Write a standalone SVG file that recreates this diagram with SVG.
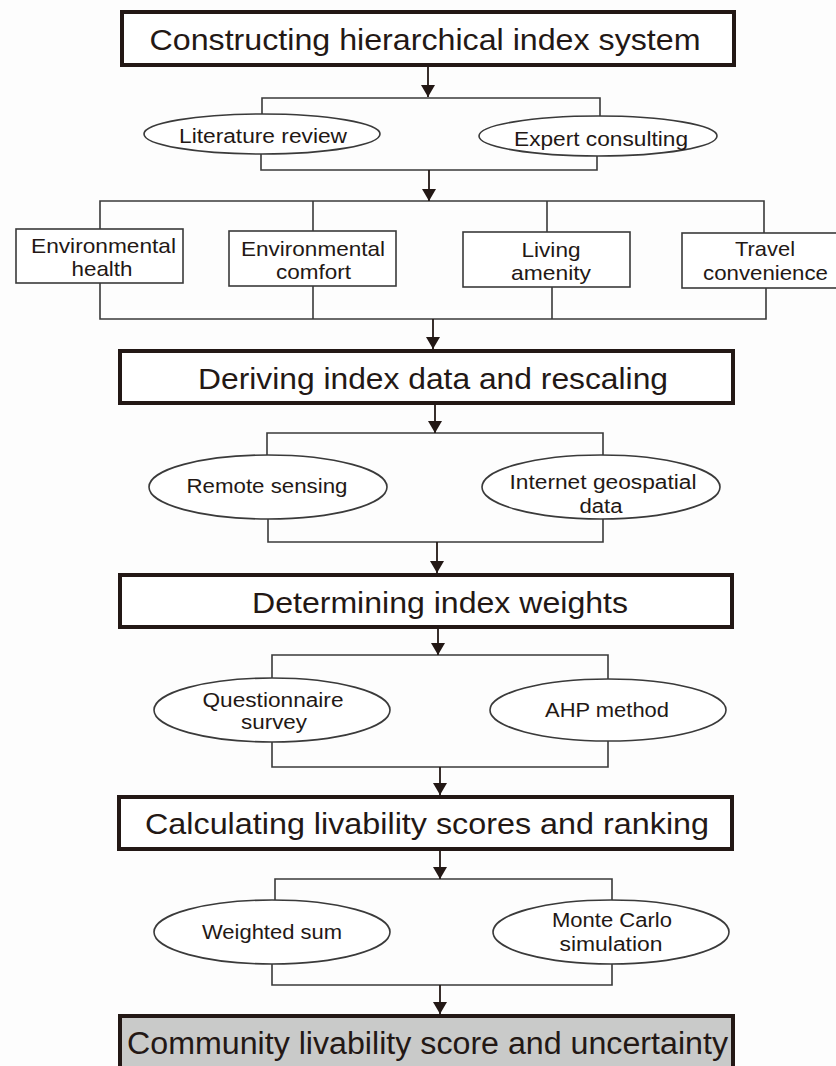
<svg xmlns="http://www.w3.org/2000/svg" width="836" height="1066" viewBox="0 0 836 1066">
<defs>
<style>
.bg{fill:#fdfdfd}
.main{fill:#ffffff;stroke:#231815;stroke-width:4}
.final{fill:#c9cac9;stroke:#231815;stroke-width:4}
.sub{fill:#ffffff;stroke:#3a3a3a;stroke-width:1.6}
.ell{fill:#ffffff;stroke:#3a3a3a;stroke-width:1.6}
.ln{fill:none;stroke:#3a3a3a;stroke-width:1.6}
.arr{fill:none;stroke:#231815;stroke-width:1.8}
.t{font-family:"Liberation Sans Narrow","Liberation Sans",Arial,sans-serif;fill:#231815;text-anchor:middle}
.tt{font-size:29px}
.te{font-size:20px}
.tb{font-family:"Liberation Sans",Arial,sans-serif;font-size:21px;fill:#231815;text-anchor:middle}
</style>
<marker id="ah" viewBox="0 0 12 14" refX="12" refY="7" markerWidth="12" markerHeight="14" markerUnits="userSpaceOnUse" orient="auto">
<path d="M0,0 L12,7 L0,14 z" fill="#231815"/>
</marker>
</defs>
<rect class="bg" x="0" y="0" width="836" height="1066"/>

<g id="connectors">
<path class="ln" d="M262,114 V98 H600 V116"/>
<path class="ln" d="M261,154 V170 H597 V156"/>
<path class="ln" d="M100,229 V201 H764 V233 M313,201 V231 M547,201 V232"/>
<path class="ln" d="M100,283 V319 H766 V288 M313,286 V319 M552,287 V319"/>
<path class="ln" d="M267,455 V433 H603 V455"/>
<path class="ln" d="M268,519 V542 H603 V519"/>
<path class="ln" d="M272,678 V655 H608 V679"/>
<path class="ln" d="M272,742 V767 H608 V741"/>
<path class="ln" d="M275,900 V879 H612 V900"/>
<path class="ln" d="M272,964 V985 H612 V964"/>
<line class="arr" x1="428" y1="66" x2="428" y2="97" marker-end="url(#ah)"/>
<line class="arr" x1="429" y1="170" x2="429" y2="201" marker-end="url(#ah)"/>
<line class="arr" x1="433" y1="319" x2="433" y2="349" marker-end="url(#ah)"/>
<line class="arr" x1="435" y1="405" x2="435" y2="433" marker-end="url(#ah)"/>
<line class="arr" x1="437" y1="542" x2="437" y2="573" marker-end="url(#ah)"/>
<line class="arr" x1="438" y1="629" x2="438" y2="655" marker-end="url(#ah)"/>
<line class="arr" x1="440" y1="767" x2="440" y2="795" marker-end="url(#ah)"/>
<line class="arr" x1="440" y1="851" x2="440" y2="879" marker-end="url(#ah)"/>
<line class="arr" x1="440" y1="985" x2="440" y2="1014" marker-end="url(#ah)"/>
</g>

<g id="box-constructing">
<rect class="main" x="122" y="12" width="612" height="53"/>
<text class="t tt" x="425" y="50" textLength="551" lengthAdjust="spacingAndGlyphs">Constructing hierarchical index system</text>
</g>
<g id="ell-literature">
<ellipse class="ell" cx="262" cy="134" rx="118" ry="20"/>
<text class="t te" x="263" y="143" textLength="168" lengthAdjust="spacingAndGlyphs">Literature review</text>
</g>
<g id="ell-expert">
<ellipse class="ell" cx="598" cy="136" rx="119" ry="20"/>
<text class="t te" x="601" y="146" textLength="174" lengthAdjust="spacingAndGlyphs">Expert consulting</text>
</g>
<g id="box-env-health">
<rect class="sub" x="16" y="229" width="167" height="54"/>
<text class="tb" x="103.5" y="253" textLength="145" lengthAdjust="spacingAndGlyphs">Environmental</text>
<text class="tb" x="102" y="276" textLength="61" lengthAdjust="spacingAndGlyphs">health</text>
</g>
<g id="box-env-comfort">
<rect class="sub" x="229" y="231" width="167" height="55"/>
<text class="tb" x="313" y="256" textLength="144" lengthAdjust="spacingAndGlyphs">Environmental</text>
<text class="tb" x="313.5" y="279" textLength="75" lengthAdjust="spacingAndGlyphs">comfort</text>
</g>
<g id="box-living">
<rect class="sub" x="463" y="232" width="167" height="55"/>
<text class="tb" x="551" y="257" textLength="59" lengthAdjust="spacingAndGlyphs">Living</text>
<text class="tb" x="551" y="280" textLength="80" lengthAdjust="spacingAndGlyphs">amenity</text>
</g>
<g id="box-travel">
<rect class="sub" x="682" y="233" width="170" height="55"/>
<text class="tb" x="765" y="256" textLength="60" lengthAdjust="spacingAndGlyphs">Travel</text>
<text class="tb" x="765.5" y="280" textLength="125" lengthAdjust="spacingAndGlyphs">convenience</text>
</g>
<g id="box-deriving">
<rect class="main" x="120" y="351" width="613" height="52"/>
<text class="t tt" x="433" y="389" textLength="470" lengthAdjust="spacingAndGlyphs">Deriving index data and rescaling</text>
</g>
<g id="ell-remote">
<ellipse class="ell" cx="268" cy="487" rx="119" ry="32"/>
<text class="t te" x="267" y="493" textLength="161" lengthAdjust="spacingAndGlyphs">Remote sensing</text>
</g>
<g id="ell-internet">
<ellipse class="ell" cx="601" cy="487" rx="119" ry="32"/>
<text class="t te" x="603" y="489" textLength="187" lengthAdjust="spacingAndGlyphs">Internet geospatial</text>
<text class="t te" x="601" y="513" textLength="43" lengthAdjust="spacingAndGlyphs">data</text>
</g>
<g id="box-determining">
<rect class="main" x="120" y="575" width="612" height="52"/>
<text class="t tt" x="440" y="613" textLength="376" lengthAdjust="spacingAndGlyphs">Determining index weights</text>
</g>
<g id="ell-questionnaire">
<ellipse class="ell" cx="272" cy="710" rx="118" ry="32"/>
<text class="t te" x="273" y="707" textLength="141" lengthAdjust="spacingAndGlyphs">Questionnaire</text>
<text class="t te" x="274" y="729" textLength="66" lengthAdjust="spacingAndGlyphs">survey</text>
</g>
<g id="ell-ahp">
<ellipse class="ell" cx="608" cy="710" rx="118" ry="31"/>
<text class="t te" x="607" y="717" textLength="124" lengthAdjust="spacingAndGlyphs">AHP method</text>
</g>
<g id="box-calculating">
<rect class="main" x="119" y="797" width="613" height="52"/>
<text class="t tt" x="427" y="834" textLength="564" lengthAdjust="spacingAndGlyphs">Calculating livability scores and ranking</text>
</g>
<g id="ell-weighted">
<ellipse class="ell" cx="272" cy="932" rx="118" ry="32"/>
<text class="t te" x="272" y="939" textLength="140" lengthAdjust="spacingAndGlyphs">Weighted sum</text>
</g>
<g id="ell-montecarlo">
<ellipse class="ell" cx="611" cy="932" rx="118" ry="32"/>
<text class="t te" x="612" y="927" textLength="120" lengthAdjust="spacingAndGlyphs">Monte Carlo</text>
<text class="t te" x="611" y="951" textLength="103" lengthAdjust="spacingAndGlyphs">simulation</text>
</g>
<g id="box-community">
<rect class="final" x="120" y="1016" width="613" height="60"/>
<text class="t" style="font-size:31px" x="427.5" y="1054" textLength="601" lengthAdjust="spacingAndGlyphs">Community livability score and uncertainty</text>
</g>
</svg>
